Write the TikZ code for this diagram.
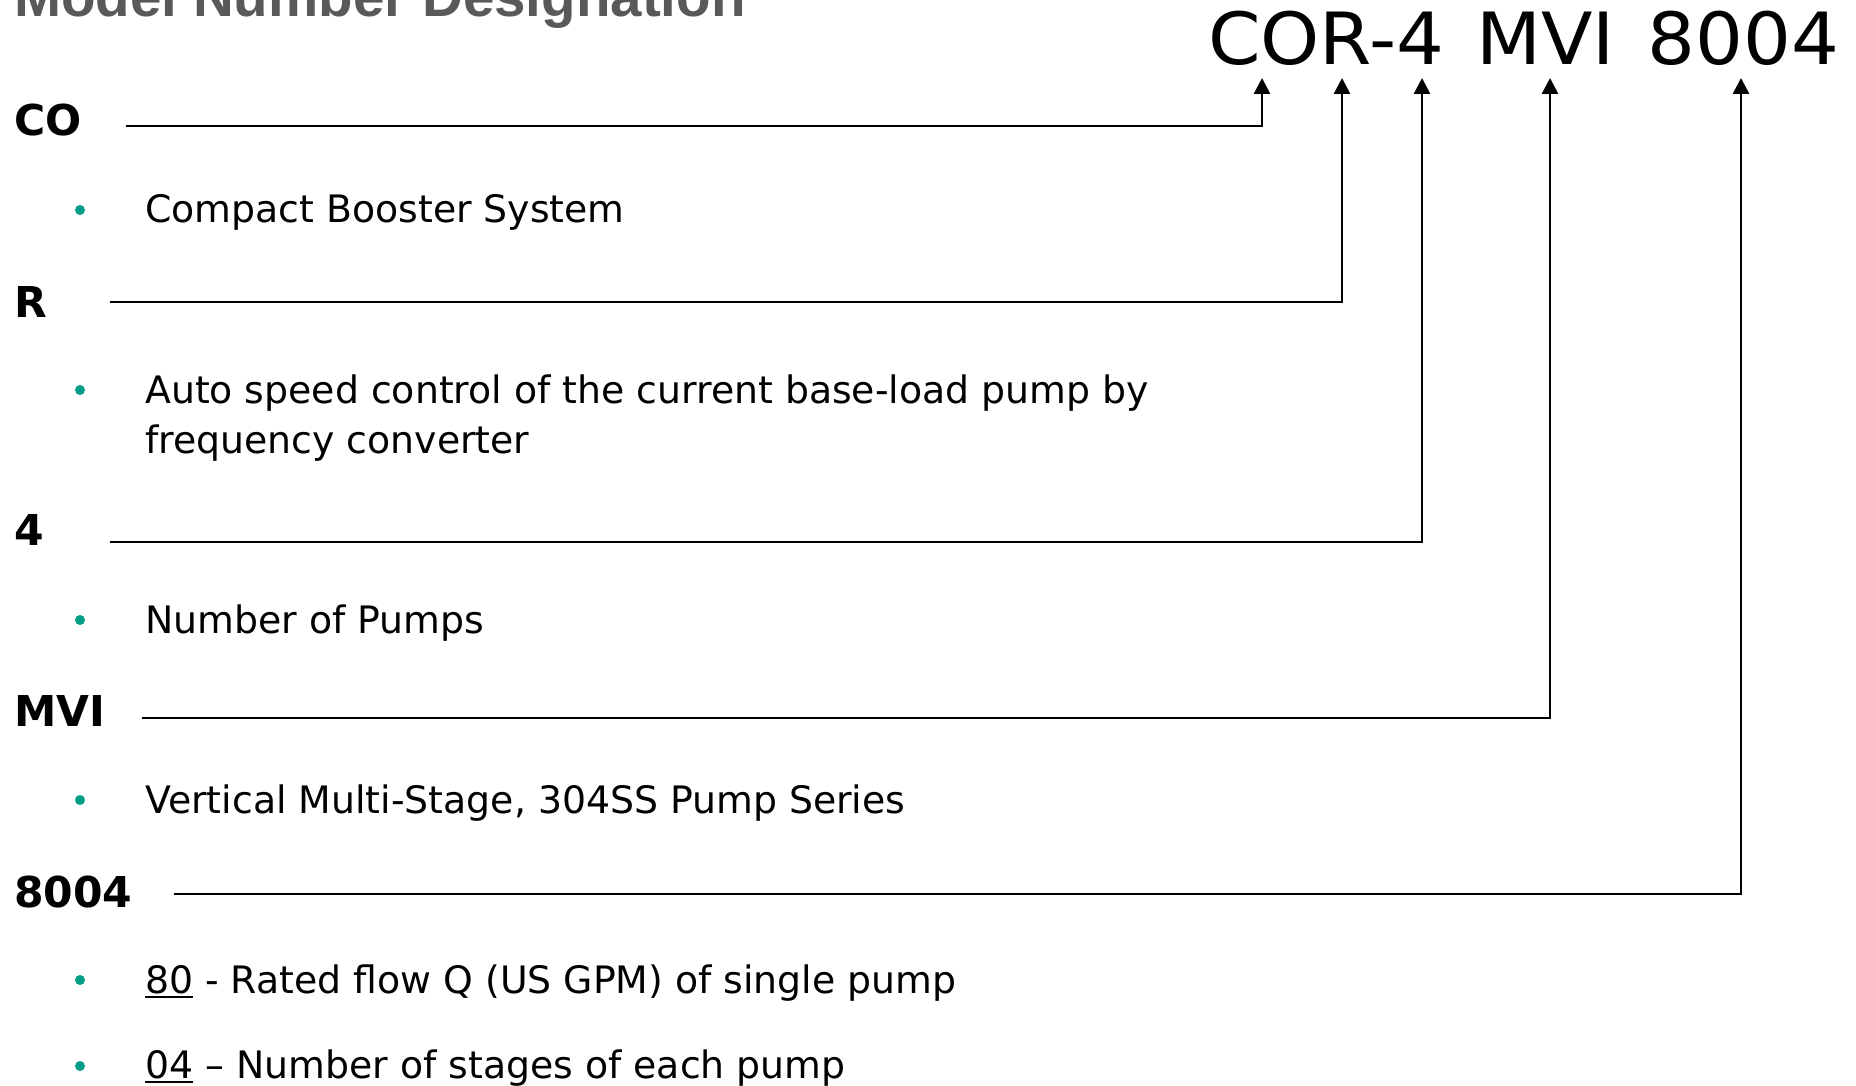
\documentclass[tikz,border=0pt]{standalone}
\usepackage{fontspec}
\usepackage{graphicx}
\setmainfont{DejaVu Sans}
\newfontfamily\titlefont{Liberation Sans}
\usetikzlibrary{arrows.meta}
\definecolor{bullteal}{HTML}{009C86}
\definecolor{titlegray}{HTML}{595959}
\newcommand{\myul}[1]{\setbox0\hbox{#1}\rlap{\rule[-5pt]{\wd0}{2pt}}\box0\relax}
\tikzset{
  lbl/.style={anchor=base west, inner sep=0pt, font=\fontsize{42.5}{48}\selectfont\bfseries},
  desc/.style={anchor=base west, inner sep=0pt, font=\fontsize{37.8}{50}\selectfont, align=left},
  dot/.style={circle, fill=bullteal, draw=none, minimum size=10pt, inner sep=0pt},
  conn/.style={line width=2.6pt, -{Triangle[width=16pt,length=16pt]}},
}
\begin{document}
\begin{tikzpicture}[x=1pt,y=-1pt]
\useasboundingbox (0,0) rectangle (1856,1086);
% title
\node[anchor=base west, inner sep=0pt, text=titlegray, font=\fontsize{56.5}{60}\selectfont\titlefont\bfseries] (title) at (14,17) {Model Number Designation};
% model code
\node[anchor=base west, inner sep=0pt, font=\fontsize{72}{80}\selectfont] (code) at (1208,65) {\scalebox{1.045}[1]{COR-4\hspace{0.43em}MVI\hspace{0.43em}8004}};
% arrow target points
\coordinate (tCO) at (1262,78);
\coordinate (tR) at (1342,78);
\coordinate (tF) at (1422,78);
\coordinate (tMVI) at (1550,78);
\coordinate (tN) at (1741,78);
% labels
\node[lbl] (lCO) at (14,136) {CO};
\node[lbl] (lR) at (14,317) {R};
\node[lbl] (lF) at (14,545) {4};
\node[lbl] (lMVI) at (14,726) {MVI};
\node[lbl] (lN) at (14,907) {8004};
% line starts
\coordinate (sCO) at (126,126);
\coordinate (sR) at (110,302);
\coordinate (sF) at (110,542);
\coordinate (sMVI) at (142,718);
\coordinate (sN) at (174,894);
% connectors
\draw[conn] (sCO) -| (tCO);
\draw[conn] (sR) -| (tR);
\draw[conn] (sF) -| (tF);
\draw[conn] (sMVI) -| (tMVI);
\draw[conn] (sN) -| (tN);
% bullets and descriptions
\node[dot] (b1) at (80,210) {};
\node[desc] (d1) at (145,223) {Compact Booster System};
\node[dot] (b2) at (80,390) {};
\node[desc] (d2) at (145,453) {Auto speed control of the current base-load pump by\\frequency converter};
\node[dot] (b3) at (80,620) {};
\node[desc] (d3) at (145,633) {Number of Pumps};
\node[dot] (b4) at (80,800) {};
\node[desc] (d4) at (145,813) {Vertical Multi-Stage, 304SS Pump Series};
\node[dot] (b5) at (80,980) {};
\node[desc] (d5) at (145,993) {\myul{80} - Rated flow Q (US GPM) of single pump};
\node[dot] (b6) at (80,1066) {};
\node[desc] (d6) at (145,1078) {\myul{04} – Number of stages of each pump};
\end{tikzpicture}
\end{document}
